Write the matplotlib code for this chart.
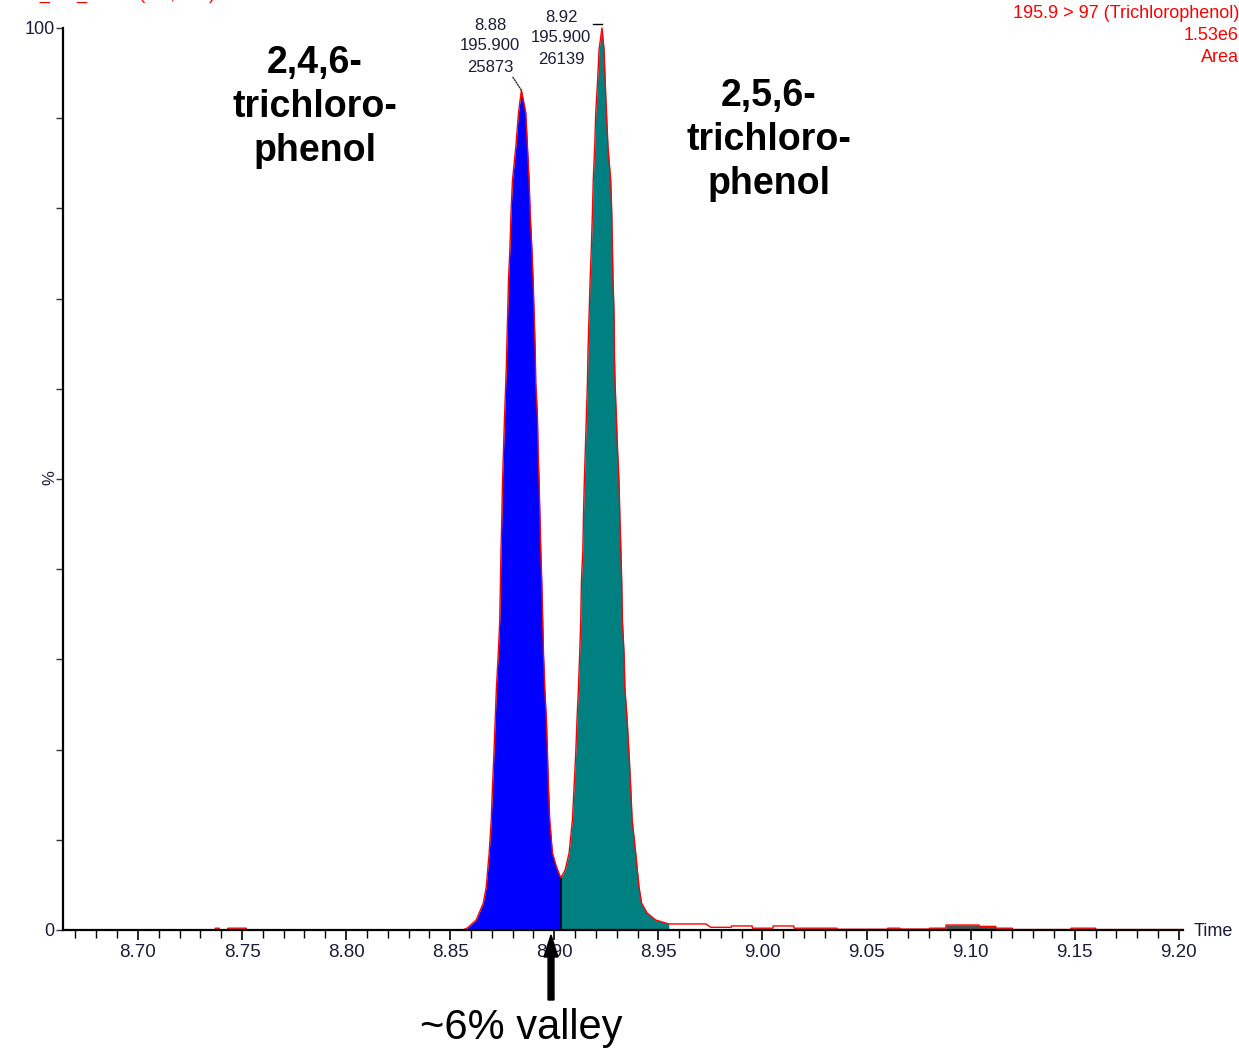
import numpy as np
import matplotlib
matplotlib.use("Agg")
import matplotlib.pyplot as plt

plt.rcParams["font.family"] = ["Liberation Sans", "DejaVu Sans"]

# chromatogram trace (time in min, intensity in %)
time_pts = [
    8.664, 8.737, 8.7372, 8.739, 8.7392, 8.743, 8.7432, 8.752, 8.7522, 8.856,
    8.8582, 8.8625, 8.8659, 8.8673, 8.8687, 8.8697, 8.8703, 8.8710, 8.8716, 8.8722,
    8.8731, 8.8738, 8.8744, 8.8748, 8.8751, 8.8756, 8.8761, 8.8769, 8.8774, 8.8780,
    8.8787, 8.8792, 8.8799, 8.8815, 8.8828, 8.8842,
    8.8863, 8.8871, 8.8879, 8.8884, 8.8892, 8.8898, 8.8903, 8.8909, 8.8911, 8.8919,
    8.8922, 8.8927, 8.8931, 8.8935, 8.8940, 8.8944, 8.8948, 8.8954, 8.8962, 8.8967,
    8.8972, 8.8978, 8.8991, 8.9009, 8.9031,
    8.9052, 8.9071, 8.9087, 8.9095, 8.9103, 8.9109, 8.9116, 8.9122, 8.9127, 8.9130,
    8.9137, 8.9140, 8.9144, 8.9149, 8.9154, 8.9159, 8.9162, 8.9167, 8.9172, 8.9178,
    8.9183, 8.9187, 8.9194, 8.9199, 8.9208, 8.9215, 8.9229,
    8.9239, 8.9248, 8.9258, 8.9271, 8.9276, 8.9279, 8.9282, 8.9287, 8.9289, 8.9292,
    8.9298, 8.9304, 8.9311, 8.9315, 8.9320, 8.9324, 8.9327, 8.9335, 8.9339, 8.9350,
    8.9359, 8.9367, 8.9374, 8.9391, 8.9407, 8.9419, 8.9446, 8.9487, 8.9550,
    8.9728, 8.9752, 8.985, 8.9852, 8.995, 8.9952, 9.005, 9.0052, 9.015, 9.0152,
    9.0357, 9.0360, 9.060, 9.0602, 9.066, 9.0662, 9.080, 9.0802, 9.088, 9.0882,
    9.104, 9.1042, 9.112, 9.1122, 9.120, 9.1202, 9.148, 9.1482, 9.160, 9.1602,
    9.202,
]
intensity = [
    0.0, 0.0, 0.2, 0.2, 0.0, 0.0, 0.2, 0.2, 0.0, 0.0,
    0.22, 1.11, 2.99, 4.77, 8.54, 12.2, 15.85, 19.6, 23.3, 26.9,
    30.7, 34.4, 42.1, 45.8, 49.6, 53.2, 56.9, 62.1, 66.5, 72.1,
    75.7, 79.5, 83.1, 86.8, 90.6, 93.1,
    90.6, 86.8, 83.1, 79.5, 75.7, 72.1, 68.4, 63.5, 60.6, 56.9,
    53.2, 49.6, 45.8, 42.1, 38.5, 34.4, 30.7, 26.9, 23.3, 19.6,
    15.85, 12.2, 8.54, 7.1, 5.77,
    6.65, 8.54, 12.2, 15.85, 19.6, 23.3, 26.9, 30.7, 34.4, 38.5,
    42.1, 45.8, 49.6, 53.2, 56.9, 60.6, 64.3, 68.4, 72.1, 75.7,
    79.5, 83.1, 86.8, 90.6, 94.2, 97.6, 100.0,
    97.6, 92.0, 86.8, 83.1, 79.5, 75.7, 72.1, 68.4, 63.5, 60.6,
    56.9, 53.2, 49.6, 45.8, 42.1, 38.5, 34.4, 30.7, 26.9, 23.3,
    19.6, 15.85, 12.2, 8.54, 4.77, 2.99, 1.88, 1.11, 0.67,
    0.67, 0.3, 0.3, 0.45, 0.45, 0.2, 0.2, 0.45, 0.45, 0.2,
    0.2, 0.08, 0.08, 0.2, 0.2, 0.1, 0.1, 0.2, 0.2, 0.55,
    0.55, 0.4, 0.4, 0.2, 0.2, 0.05, 0.05, 0.2, 0.2, 0.05,
    0.05,
]

peak1_start, valley_time, peak2_end = 8.8582, 8.9031, 8.9550
minor_start, minor_end = 9.080, 9.120

peak_labels = [
    (8.8842, 93.1, "8.88\n195.900\n25873"),
    (8.9229, 100.0, "8.92\n195.900\n26139"),
]
compound_names = ["2,4,6-\ntrichloro-\nphenol", "2,5,6-\ntrichloro-\nphenol"]
x_major = [8.70, 8.75, 8.80, 8.85, 8.90, 8.95, 9.00, 9.05, 9.10, 9.15, 9.20]

W, H = 1239, 1048
tick_col = "#1c1c3a"


def fx(px):
    return px / W


def fy(py):
    return 1 - py / H


t = np.array(time_pts)
y = np.array(intensity)

fig = plt.figure(figsize=(W / 100, H / 100), dpi=100)
ax = fig.add_axes([fx(63), fy(930), fx(1183) - fx(63), fy(28) - fy(930)])

# integrated areas
m1 = (t >= peak1_start) & (t <= valley_time)
m2 = (t >= valley_time) & (t <= peak2_end)
m3 = (t >= minor_start) & (t <= minor_end)
ax.fill_between(t[m1], 0, y[m1], color="#0000ff", lw=0)
ax.fill_between(t[m2], 0, y[m2], color="#008080", lw=0)
ax.fill_between(t[m3], 0, y[m3], color="#505050", lw=0)
ax.plot([valley_time, valley_time], [0, y[t == valley_time][0]], color="black", lw=1.2)
ax.plot(t, y, color="#ff0000", lw=1.0, clip_on=False, zorder=3)

ax.set_xlim(8.664, 9.202)
ax.set_ylim(0, 100)
for s in ["top", "right"]:
    ax.spines[s].set_visible(False)
for s in ["left", "bottom"]:
    ax.spines[s].set_linewidth(1.6)
    ax.spines[s].set_zorder(4)

ax.set_xticks(x_major)
ax.set_xticklabels([f"{v:.2f}" for v in x_major])
ax.set_xticks(np.arange(8.67, 9.2, 0.01), minor=True)
ax.set_yticks(np.arange(0, 101, 10))
ax.set_yticklabels(["0"] + [""] * 9 + ["100"])
ax.tick_params(axis="x", which="major", length=7, width=1.2, colors="black",
               labelcolor=tick_col, labelsize=13.5, pad=3)
ax.tick_params(axis="x", which="minor", length=6, width=1.0, colors="black")
ax.tick_params(axis="y", which="major", length=5, width=1.0, colors="#333333",
               labelcolor=tick_col, labelsize=13, pad=1)
fig.text(fx(50), fy(478), "%", rotation=90, ha="center", va="center",
         fontsize=12, color=tick_col)
fig.text(fx(1194), fy(932), "Time", ha="left", va="center", fontsize=13, color=tick_col)

# peak annotations
ax.annotate(peak_labels[0][2], xy=(peak_labels[0][0], peak_labels[0][1]),
            xytext=(fx(490), fy(46)), textcoords="figure fraction",
            ha="center", va="center", fontsize=12, color=tick_col, linespacing=1.5,
            arrowprops=dict(arrowstyle="-", color="#333333", lw=1, ls=(0, (1, 1)),
                            shrinkA=0, shrinkB=0, relpos=(0.85, 0.0)),
            annotation_clip=False)
fig.text(fx(561), fy(38), peak_labels[1][2], ha="center", va="center",
         fontsize=12, color=tick_col, linespacing=1.5)
ax.plot([peak_labels[1][0] - 0.0045, peak_labels[1][0]], [100.4, 100.4],
        color="black", lw=1.0, clip_on=False)

# compound names
fig.text(fx(315), fy(107), compound_names[0], ha="center", va="center",
         fontsize=27, fontweight="bold", linespacing=1.3)
fig.text(fx(769), fy(140), compound_names[1], ha="center", va="center",
         fontsize=27, fontweight="bold", linespacing=1.3)

# header texts
red = "#ff0000"
fig.text(1.0, fy(14), "195.9 > 97 (Trichlorophenol)", ha="right", va="center",
         fontsize=13, color=red)
fig.text(1.0, fy(36), "1.53e6", ha="right", va="center", fontsize=13, color=red)
fig.text(1.0, fy(57), "Area", ha="right", va="center", fontsize=13, color=red)
fig.text(fx(4), fy(-1), "TCP_Std_ 1 Sm (Mn, 2x3)", ha="left", va="baseline",
         fontsize=13, color=red)

# valley arrow
fig.patches.append(plt.matplotlib.patches.FancyArrow(
    fx(551), fy(1000), 0, fy(935) - fy(1000), width=5 / H, head_width=14 / W,
    head_length=22 / H, length_includes_head=True, color="black",
    transform=fig.transFigure, figure=fig, zorder=10))
fig.text(fx(521), fy(1028), "~6% valley", ha="center", va="center", fontsize=30)

fig.savefig("out.png", dpi=100)
